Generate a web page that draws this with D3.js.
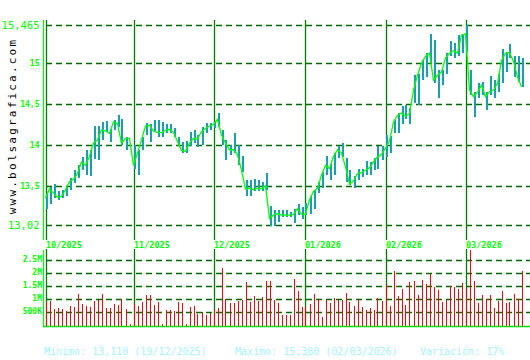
<!DOCTYPE html>
<html>
<head>
<meta charset="utf-8">
<script src="https://cdn.jsdelivr.net/npm/d3@7"></script>
<style>
  body { margin: 0; background: #fff; }
  svg { display: block; }
</style>
</head>
<body>
<svg id="chart" width="530" height="360"></svg>
<script>
// daily closes (green line)
const closes = [
  13.35, 13.46, 13.41, 13.36, 13.37, 13.45, 13.55, 13.58, 13.65, 13.79,
  13.75, 13.86, 14.02, 14.06, 14.18, 14.17, 14.14, 14.28, 14.26, 14.02,
  14.08, 14.08, 13.75, 13.90, 14.06, 14.23, 14.24, 14.17, 14.15, 14.15,
  14.18, 14.19, 14.15, 14.04, 13.93, 13.92, 14.02, 14.08, 14.07, 14.16,
  14.20, 14.23, 14.25, 14.31, 14.12, 14.02, 13.94, 13.94, 13.88, 13.69,
  13.46, 13.47, 13.45, 13.47, 13.46, 13.50, 13.10, 13.14, 13.16, 13.14,
  13.14, 13.14, 13.15, 13.22, 13.15, 13.15, 13.33, 13.43, 13.47, 13.63,
  13.75, 13.71, 13.86, 13.94, 13.90, 13.73, 13.52, 13.56, 13.65, 13.66,
  13.69, 13.72, 13.79, 13.85, 13.88, 13.96, 14.05, 14.28, 14.36, 14.39,
  14.35, 14.38, 14.67, 14.85, 15.00, 15.08, 15.12, 14.79, 14.85, 14.89,
  15.06, 15.12, 15.15, 15.12, 15.34, 15.36, 14.67, 14.59, 14.64, 14.73,
  14.59, 14.65, 14.67, 14.75, 15.03, 15.12, 15.13, 15.02, 14.83, 14.71
];

const highs = [
  13.41, 13.49, 13.52, 13.43, 13.45, 13.49, 13.59, 13.69, 13.75, 13.85,
  13.94, 13.94, 14.23, 14.23, 14.28, 14.29, 14.19, 14.30, 14.36, 14.31,
  14.10, 14.08, 14.00, 13.94, 14.10, 14.27, 14.26, 14.30, 14.30, 14.28,
  14.25, 14.25, 14.20, 14.10, 14.04, 14.05, 14.16, 14.18, 14.12, 14.22,
  14.27, 14.27, 14.28, 14.39, 14.18, 14.06, 14.00, 14.15, 14.00, 13.86,
  13.57, 13.57, 13.58, 13.57, 13.55, 13.65, 13.25, 13.20, 13.20, 13.20,
  13.20, 13.18, 13.21, 13.28, 13.24, 13.29, 13.37, 13.45, 13.54, 13.67,
  13.86, 13.77, 13.90, 13.98, 14.02, 13.84, 13.69, 13.62, 13.71, 13.71,
  13.80, 13.79, 13.84, 13.99, 13.99, 14.12, 14.11, 14.30, 14.39, 14.47,
  14.49, 14.45, 14.85, 14.87, 15.04, 15.12, 15.36, 15.28, 14.91, 14.91,
  15.12, 15.27, 15.25, 15.34, 15.36, 15.465, 14.91, 14.65, 14.75, 14.77,
  14.65, 14.84, 14.79, 14.87, 15.17, 15.14, 15.23, 15.09, 15.08, 15.06
];

const lows = [
  13.22, 13.28, 13.35, 13.33, 13.35, 13.37, 13.45, 13.53, 13.59, 13.69,
  13.63, 13.62, 13.83, 13.81, 14.06, 14.16, 14.04, 14.18, 14.22, 14.00,
  13.94, 14.08, 13.71, 13.63, 13.94, 14.12, 14.04, 14.16, 14.10, 14.10,
  14.14, 14.14, 14.10, 14.00, 13.90, 13.90, 13.98, 14.02, 13.97, 14.00,
  14.14, 14.18, 14.20, 14.22, 14.00, 13.81, 13.88, 13.90, 13.75, 13.67,
  13.37, 13.37, 13.43, 13.43, 13.43, 13.45, 13.01, 13.01, 13.06, 13.12,
  13.12, 13.12, 13.05, 13.14, 13.09, 13.14, 13.16, 13.22, 13.41, 13.47,
  13.63, 13.57, 13.63, 13.84, 13.85, 13.54, 13.51, 13.47, 13.57, 13.61,
  13.63, 13.63, 13.69, 13.71, 13.81, 13.85, 13.90, 14.14, 14.14, 14.26,
  14.31, 14.26, 14.51, 14.49, 14.79, 14.83, 15.00, 14.75, 14.57, 14.73,
  14.87, 15.08, 15.06, 15.08, 15.12, 15.14, 14.61, 14.34, 14.57, 14.61,
  14.43, 14.61, 14.57, 14.65, 14.75, 14.89, 15.06, 14.83, 14.77, 14.71
];

// daily volume, millions
const volumes = [
  0.86, 0.90, 0.58, 0.63, 0.58, 0.51, 0.70, 0.67, 1.17, 0.78,
  0.70, 0.67, 0.90, 0.94, 1.17, 0.63, 0.63, 0.78, 0.74, 0.97,
  0.59, 0.02, 0.78, 0.70, 0.86, 1.13, 1.13, 0.74, 0.86, 0.02,
  0.55, 0.55, 0.51, 0.86, 0.82, 0.02, 0.67, 0.70, 0.40, 0.47,
  0.36, 0.44, 0.59, 0.63, 2.17, 0.97, 0.82, 0.82, 0.90, 0.94,
  1.63, 0.86, 1.09, 0.90, 1.05, 1.67, 1.67, 0.94, 0.82, 0.36,
  0.36, 0.36, 1.74, 1.28, 0.67, 0.67, 0.78, 1.17, 0.94, 0.28,
  0.94, 0.82, 1.01, 0.94, 0.94, 1.20, 0.86, 0.70, 0.94, 0.67,
  0.55, 0.63, 0.55, 1.01, 0.90, 1.51, 0.70, 2.05, 1.09, 1.36,
  0.74, 1.63, 1.67, 1.13, 1.70, 1.55, 1.94, 1.44, 1.32, 0.86,
  0.94, 1.47, 1.44, 1.36, 1.59, 1.40, 2.86, 1.67, 0.82, 1.13,
  0.97, 1.13, 0.63, 0.90, 1.28, 0.82, 0.86, 1.17, 0.97, 2.05
];

const monthIndex = [0, 22, 42, 65, 85, 105];
const monthLabels = ['10/2025', '11/2025', '12/2025', '01/2026', '02/2026', '03/2026'];

const priceTicks = [13.02, 13.5, 14, 14.5, 15, 15.465];
const priceLabels = ['13,02', '13,5', '14', '14,5', '15', '15,465'];

const volTicks = [0.5, 1, 1.5, 2, 2.5];
const volLabels = ['500K', '1M', '1.5M', '2M', '2.5M'];

const footer = [
  { x: 44, text: 'Minimo: 13,110 (19/12/2025)' },
  { x: 235, text: 'Maximo: 15,380 (02/03/2026)' },
  { x: 420, text: 'Variación: 17%' }
];

const svg = d3.select('#chart');
const mono = '"DejaVu Sans Mono", "Liberation Mono", monospace';
const bright = '#00ff00';
const dark = '#006a00';

const x = d3.scaleLinear().domain([0, closes.length - 1]).range([45.5, 521.5]);
const y = d3.scaleLinear().domain([13.02, 15.465]).range([225, 25]);
const yv = d3.scaleLinear().domain([0, 2.5]).range([324.5, 259.5]);
const px = i => Math.round(x(i));

// price grid
svg.append('g')
  .selectAll('line')
  .data(priceTicks)
  .join('line')
  .attr('x1', 46).attr('x2', 530)
  .attr('y1', d => Math.round(y(d)) + 0.5)
  .attr('y2', d => Math.round(y(d)) + 0.5)
  .attr('stroke', dark)
  .attr('stroke-width', 1.6)
  .attr('stroke-dasharray', '6,4');

// volume grid
svg.append('g')
  .selectAll('line')
  .data(volTicks)
  .join('line')
  .attr('x1', 46).attr('x2', 530)
  .attr('y1', d => Math.round(yv(d)) + 0.5)
  .attr('y2', d => Math.round(yv(d)) + 0.5)
  .attr('stroke', dark)
  .attr('stroke-width', 1.6)
  .attr('stroke-dasharray', '6,4');

// month separators
const months = svg.append('g');
months.selectAll('line.top')
  .data(monthIndex)
  .join('line')
  .attr('class', 'top')
  .attr('x1', d => px(d) + 0.5)
  .attr('x2', d => px(d) + 0.5)
  .attr('y1', 20).attr('y2', 240)
  .attr('stroke', '#007a00')
  .attr('stroke-width', 1.3);
months.selectAll('line.bot')
  .data(monthIndex)
  .join('line')
  .attr('class', 'bot')
  .attr('x1', d => px(d) + 0.5)
  .attr('x2', d => px(d) + 0.5)
  .attr('y1', 249).attr('y2', 326)
  .attr('stroke', '#007a00')
  .attr('stroke-width', 1.3);
months.selectAll('text')
  .data(monthIndex)
  .join('text')
  .attr('x', d => px(d))
  .attr('y', 247.5)
  .attr('fill', bright)
  .attr('font-family', mono)
  .attr('font-weight', 'bold')
  .attr('font-size', '8.5px')
  .text((d, i) => monthLabels[i]);

// high-low bars
svg.append('g')
  .attr('shape-rendering', 'crispEdges')
  .selectAll('line')
  .data(closes)
  .join('line')
  .attr('x1', (d, i) => px(i) + 1)
  .attr('x2', (d, i) => px(i) + 1)
  .attr('y1', (d, i) => y(highs[i]))
  .attr('y2', (d, i) => y(lows[i]))
  .attr('stroke', '#1a9fb0')
  .attr('stroke-width', 2);

// close line
svg.append('path')
  .datum(closes)
  .attr('fill', 'none')
  .attr('stroke', bright)
  .attr('stroke-width', 1.3)
  .attr('d', d3.line().x((d, i) => x(i)).y(d => y(d)));

// volume bars
svg.append('g')
  .attr('shape-rendering', 'crispEdges')
  .selectAll('line')
  .data(volumes)
  .join('line')
  .attr('x1', (d, i) => px(i) + 0.5)
  .attr('x2', (d, i) => px(i) + 0.5)
  .attr('y1', d => yv(d))
  .attr('y2', yv(0) + 1)
  .attr('stroke', '#ff0000')
  .attr('stroke-width', 1);

// axes frame
svg.append('line')
  .attr('x1', 43.5).attr('x2', 43.5).attr('y1', 20).attr('y2', 240)
  .attr('stroke', bright).attr('stroke-width', 1.2);
svg.append('line')
  .attr('x1', 43.5).attr('x2', 43.5).attr('y1', 250).attr('y2', 326)
  .attr('stroke', bright).attr('stroke-width', 1.2);
svg.append('line')
  .attr('x1', 43).attr('x2', 530).attr('y1', 326.5).attr('y2', 326.5)
  .attr('stroke', '#00dd00').attr('stroke-width', 1.5);

// price labels
svg.append('g')
  .selectAll('text')
  .data(priceTicks)
  .join('text')
  .attr('x', 39.5)
  .attr('y', d => y(d))
  .attr('dy', '0.35em')
  .attr('text-anchor', 'end')
  .attr('fill', bright)
  .attr('font-family', mono)
  .attr('font-weight', (d, i) => (i === 0 || i === priceTicks.length - 1) ? 'normal' : 'bold')
  .attr('font-size', (d, i) => (i === 0 || i === priceTicks.length - 1) ? '10.5px' : '8px')
  .text((d, i) => priceLabels[i]);

// volume labels
svg.append('g')
  .selectAll('text')
  .data(volTicks)
  .join('text')
  .attr('x', 42)
  .attr('y', d => yv(d))
  .attr('dy', '0.35em')
  .attr('text-anchor', 'end')
  .attr('fill', bright)
  .attr('font-family', mono)
  .attr('font-weight', 'bold')
  .attr('font-size', '8px')
  .text((d, i) => volLabels[i]);

// watermark
svg.append('text')
  .attr('transform', 'translate(16,126) rotate(-90)')
  .attr('text-anchor', 'middle')
  .attr('fill', '#000')
  .attr('font-family', mono)
  .attr('font-size', '11px')
  .attr('letter-spacing', '2.2px')
  .text('www.bolsagrafica.com');

// footer
svg.append('g')
  .selectAll('text')
  .data(footer)
  .join('text')
  .attr('x', d => d.x)
  .attr('y', 355)
  .attr('fill', '#a6f2ff')
  .attr('font-family', mono)
  .attr('font-size', '10px')
  .text(d => d.text);
</script>
</body>
</html>
